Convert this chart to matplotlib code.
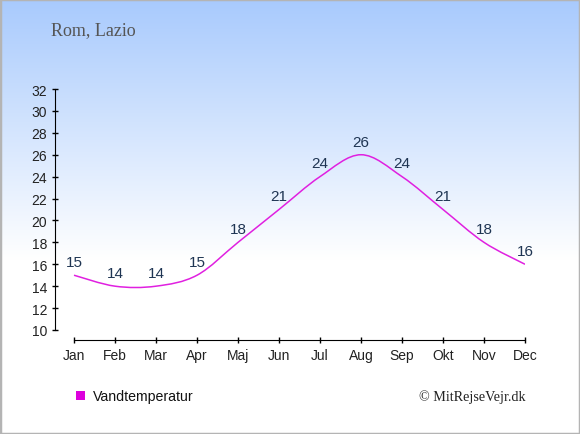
import numpy as np
import matplotlib.pyplot as plt
from matplotlib.path import Path
from matplotlib.patches import PathPatch, Rectangle

months = ["Jan", "Feb", "Mar", "Apr", "Maj", "Jun", "Jul", "Aug", "Sep", "Okt", "Nov", "Dec"]
water_temp = [15, 14, 14, 15, 18, 21, 24, 26, 24, 21, 18, 16]
y_ticks = list(range(10, 33, 2))

W, H = 580, 435
fig = plt.figure(figsize=(W / 100, H / 100), dpi=100)

# baggrund med gradient
bg = fig.add_axes([0, 0, 1, 1], zorder=0)
rows = np.linspace(0, 1, 435)[:, None]
t = np.clip(rows / 0.6, 0, 1)
top = np.array([168, 202, 253]) / 255
grad = (1 - t)[..., None] * top + t[..., None] * np.array([1, 1, 1])
grad = np.repeat(grad, 2, axis=1)
bg.imshow(grad, aspect="auto", extent=[0, 1, 0, 1], origin="upper")
bg.add_patch(Rectangle((0, 0), 1, 1, fill=False, edgecolor="#b4b4b4", lw=2.5, transform=bg.transAxes))
bg.set_xlim(0, 1)
bg.set_ylim(0, 1)
bg.axis("off")

# plotområde: x 55..525 px, y 90..341 px
ax = fig.add_axes([55 / W, 1 - 341 / H, (525 - 55) / W, (341 - 90) / H], zorder=1)
ax.patch.set_alpha(0)
ax.set_xlim(-19 / 41, 11)
ax.set_ylim(10 - 10 / 10.95, 32)

# glat kurve (Catmull-Rom -> Bezier)
x = np.arange(len(water_temp), dtype=float)
y = np.array(water_temp, dtype=float)
pts = np.column_stack([x, y])
ext = np.vstack([pts[0], pts, pts[-1]])
verts = [tuple(pts[0])]
codes = [Path.MOVETO]
for i in range(len(pts) - 1):
    p0, p1, p2, p3 = ext[i], ext[i + 1], ext[i + 2], ext[i + 3]
    c1 = p1 + (p2 - p0) / 6
    c2 = p2 - (p3 - p1) / 6
    verts += [tuple(c1), tuple(c2), tuple(p2)]
    codes += [Path.CURVE4] * 3
ax.add_patch(PathPatch(Path(verts, codes), facecolor="none", edgecolor="#e020e0", lw=1.1))

for i, v in enumerate(water_temp):
    ax.annotate(str(v), (i, v), xytext=(0, 9.5), textcoords="offset points",
                ha="center", va="center", fontsize=11, color="#1f3553",
                family="Liberation Sans")

ax.set_xticks(range(len(months)))
ax.set_xticklabels(months)
ax.set_yticks(y_ticks)
for s in ["top", "right"]:
    ax.spines[s].set_visible(False)
ax.spines["left"].set_bounds(10, 32)
ax.spines["bottom"].set_bounds(0, 11)
ax.tick_params(axis="both", direction="inout", length=5, width=1, labelsize=10,
               colors="black", pad=3)
for lab in ax.get_xticklabels() + ax.get_yticklabels():
    lab.set_family("Liberation Sans")
    lab.set_color("#222222")

fig.text(51 / W, 1 - 31 / H, "Rom, Lazio", ha="left", va="center", fontsize=13,
         family="Liberation Serif", color="#555555")

fig.patches.append(Rectangle((76 / W, 1 - 401 / H), 9 / W, 9 / H, facecolor="#dd00dd",
                             edgecolor="none", transform=fig.transFigure, figure=fig))
fig.text(93 / W, 1 - 397 / H, "Vandtemperatur", ha="left", va="center", fontsize=10.2,
         family="Liberation Sans", color="#111111")
fig.text(526 / W, 1 - 397 / H, "© MitRejseVejr.dk", ha="right", va="center", fontsize=10.2,
         family="Liberation Serif", color="#222222")

fig.savefig("out.png", dpi=100)
